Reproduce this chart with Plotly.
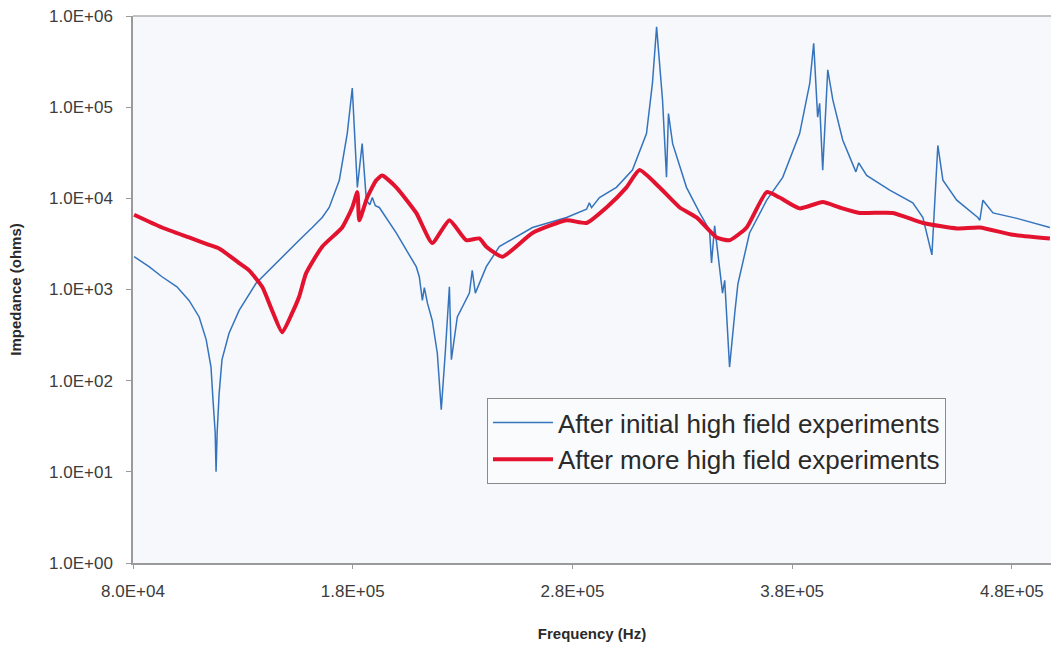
import plotly.graph_objects as go

# Impedance sweep after the initial high-field runs (Hz, ohms)
freq_initial = [
    80500, 87300, 93200, 100000, 105500, 110100, 113300, 115500, 116400, 117400,
    117800, 118300, 119200, 120500, 123700, 128300, 136000, 145100, 155600, 161600,
    166100, 169300, 173900, 177500, 179800, 182100, 184300, 186200, 187800, 188900,
    190300, 192100, 199800, 208900, 210300, 211700, 212600, 214000, 216200, 218500,
    220300, 222100, 224000, 224900, 227600, 233100, 234400, 235800, 240800, 246700,
    261800, 277300, 286400, 287700, 288700, 292300, 300000, 307300, 313700, 316400,
    318300, 321000, 322800, 323700, 325600, 331900, 337900, 342400, 343300, 344700,
    347000, 348300, 349300, 351500, 353900, 355300, 360600, 368400, 375700, 383400,
    388000, 389800, 391600, 392500, 393900, 396200, 398500, 403000, 409000, 410300,
    413900, 424400, 434900, 439500, 443600, 446300, 448600, 454900, 464500, 465400,
    466800, 471400, 482300, 497300,
]
z_initial = [
    2290, 1780, 1380, 1070, 759, 500, 282, 141, 62, 27,
    10, 27, 72, 170, 331, 589, 1170, 1950, 3470, 4790,
    6170, 7940, 15800, 51300, 162000, 13200, 39800, 9550, 8500, 10200,
    8300, 7940, 4170, 1780, 1380, 759, 1050, 708, 457, 200,
    48, 200, 1070, 170, 500, 912, 1620, 912, 1780, 2950,
    4790, 6170, 7590, 8910, 7900, 10200, 13200, 20400, 51300, 182000,
    759000, 120000, 17000, 85100, 39800, 13200, 6920, 4470, 1950, 5010,
    1580, 912, 1260, 141, 560, 1150, 4170, 9550, 17000, 51300,
    182000, 501000, 77600, 110000, 20400, 257000, 120000, 43700, 19500, 24500,
    17800, 12300, 8910, 6170, 2400, 38000, 15800, 9550, 6170, 5750,
    9550, 6920, 6030, 4790,
]

# Impedance sweep after further high-field runs (Hz, ohms)
freq_more = [
    80500, 93200, 105500, 114600, 119200, 128300, 132800, 138800, 143300, 147900,
    152400, 155600, 158800, 166100, 175200, 179800, 182100, 183000, 186600, 190700,
    193400, 199800, 208900, 216200, 224000, 231700, 237600, 240800, 248100, 261800,
    277300, 286400, 295500, 304600, 310500, 319600, 328800, 336500, 345600, 351500,
    359300, 368400, 374300, 383400, 393900, 401600, 410800, 425800, 439500, 454900,
    465400, 480500, 497300,
]
z_more = [
    6610, 4790, 3720, 3090, 2820, 1950, 1620, 1070, 589, 339,
    550, 832, 1510, 2950, 4790, 7940, 11700, 5750, 10200, 15800,
    17800, 13200, 6920, 3240, 5750, 3470, 3630, 2950, 2290, 4170,
    5750, 5370, 7940, 13200, 20400, 13200, 7940, 6170, 3720, 3470,
    4790, 11700, 10200, 7760, 9120, 7940, 6920, 6920, 5370, 4680,
    4790, 3980, 3630,
]

# Axis tick positions and their labels
y_tick_vals = [1, 10, 100, 1000, 10000, 100000, 1000000]
y_tick_text = ["1.0E+00", "1.0E+01", "1.0E+02", "1.0E+03", "1.0E+04", "1.0E+05", "1.0E+06"]
x_tick_vals = [80000, 180000, 280000, 380000, 480000]
x_tick_text = ["8.0E+04", "1.8E+05", "2.8E+05", "3.8E+05", "4.8E+05"]

FONT = "Liberation Sans, Arial, sans-serif"

fig = go.Figure()
fig.add_trace(go.Scatter(
    x=freq_initial, y=z_initial, mode="lines",
    name="After initial high field experiments",
    line=dict(color="#3574bd", width=1.5),
))
fig.add_trace(go.Scatter(
    x=freq_more, y=z_more, mode="lines",
    name="After more high field experiments",
    line=dict(color="#e3122f", width=4, shape="spline", smoothing=0.5),
))

tick_font = dict(family=FONT, size=17, color="#3c3c3c")
title_font = dict(family=FONT, size=15, color="#2a2a2a")

fig.update_layout(
    width=1051, height=650,
    margin=dict(l=133, r=0, t=16, b=87),
    paper_bgcolor="white",
    plot_bgcolor="#f6f8fc",
    font=dict(family=FONT, color="#2a2a2a"),
    showlegend=True,
    legend=dict(
        x=0.3856, y=0.3016, xanchor="left", yanchor="top",
        bgcolor="rgba(250,251,253,0.9)", bordercolor="#8a8a8a", borderwidth=1,
        font=dict(family=FONT, size=26, color="#2a2a2a"),
        tracegroupgap=0,
        itemwidth=60,
    ),
    xaxis=dict(
        range=[80000, 497800],
        tickvals=x_tick_vals, ticktext=x_tick_text,
        tickfont=tick_font,
        showgrid=False, zeroline=False,
        showline=True, linecolor="#9a9a9a", linewidth=1.5,
        ticks="outside", ticklen=4, tickcolor="#9a9a9a",
        ticklabelstandoff=8,
        title=dict(text="<b>Frequency (Hz)</b>", font=title_font, standoff=28),
    ),
    yaxis=dict(
        type="log", range=[0, 6],
        tickvals=y_tick_vals, ticktext=y_tick_text,
        tickfont=tick_font,
        showgrid=False, zeroline=False,
        showline=True, linecolor="#9a9a9a", linewidth=1.5,
        ticks="outside", ticklen=5, tickcolor="#9a9a9a",
        ticklabelstandoff=10,
        title=dict(text="<b>Impedance (ohms)</b>", font=title_font, standoff=24),
    ),
)

# Thin frame line along the top of the plotting area
fig.add_shape(type="line", xref="paper", yref="paper", x0=0, x1=1, y0=1, y1=1,
              line=dict(color="#b0b0b0", width=1.5))

fig.write_html("out.html")
